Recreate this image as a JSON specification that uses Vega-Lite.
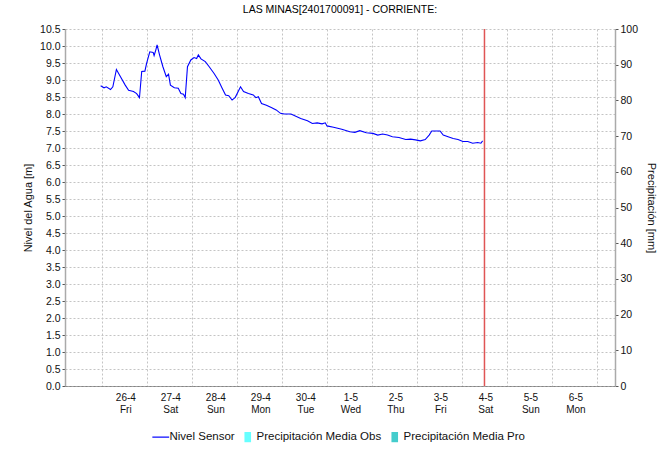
{
  "$schema": "https://vega.github.io/schema/vega-lite/v6.json",
  "width": 550,
  "height": 357,
  "autosize": {"type": "none"},
  "padding": {"left": 65, "top": 29, "right": 48, "bottom": 65},
  "background": "white",
  "title": {"text": "LAS MINAS[2401700091] - CORRIENTE:", "font": "Liberation Sans", "fontSize": 10.5, "fontWeight": "normal", "color": "#000000", "frame": "group", "anchor": "middle", "offset": 9},
  "config": {
    "view": {"stroke": null},
    "font": "Liberation Sans",
    "axis": {"labelFont": "Liberation Sans", "labelFontSize": 10.5, "labelColor": "#111111", "titleFont": "Liberation Sans", "titleFontSize": 11, "titleFontWeight": "normal", "titleColor": "#111111", "gridColor": "#c4c4c4", "gridDash": [2, 2], "gridWidth": 1, "tickColor": "#555555", "tickSize": 3}
  },
  "datasets": {
    "nivel": [
      {"t": "2024-04-25T23:06", "v": 8.83, "series": "Nivel Sensor"},
      {"t": "2024-04-26T00:54", "v": 8.77, "series": "Nivel Sensor"},
      {"t": "2024-04-26T02:06", "v": 8.80, "series": "Nivel Sensor"},
      {"t": "2024-04-26T04:21", "v": 8.72, "series": "Nivel Sensor"},
      {"t": "2024-04-26T05:36", "v": 8.80, "series": "Nivel Sensor"},
      {"t": "2024-04-26T07:30", "v": 9.31, "series": "Nivel Sensor"},
      {"t": "2024-04-26T09:36", "v": 9.10, "series": "Nivel Sensor"},
      {"t": "2024-04-26T12:12", "v": 8.85, "series": "Nivel Sensor"},
      {"t": "2024-04-26T14:00", "v": 8.70, "series": "Nivel Sensor"},
      {"t": "2024-04-26T16:36", "v": 8.66, "series": "Nivel Sensor"},
      {"t": "2024-04-26T18:18", "v": 8.60, "series": "Nivel Sensor"},
      {"t": "2024-04-26T19:48", "v": 8.48, "series": "Nivel Sensor"},
      {"t": "2024-04-26T21:00", "v": 9.25, "series": "Nivel Sensor"},
      {"t": "2024-04-26T22:42", "v": 9.26, "series": "Nivel Sensor"},
      {"t": "2024-04-26T23:36", "v": 9.49, "series": "Nivel Sensor"},
      {"t": "2024-04-27T01:18", "v": 9.83, "series": "Nivel Sensor"},
      {"t": "2024-04-27T03:06", "v": 9.81, "series": "Nivel Sensor"},
      {"t": "2024-04-27T03:36", "v": 9.72, "series": "Nivel Sensor"},
      {"t": "2024-04-27T04:30", "v": 9.88, "series": "Nivel Sensor"},
      {"t": "2024-04-27T05:12", "v": 10.03, "series": "Nivel Sensor"},
      {"t": "2024-04-27T06:30", "v": 9.74, "series": "Nivel Sensor"},
      {"t": "2024-04-27T08:18", "v": 9.39, "series": "Nivel Sensor"},
      {"t": "2024-04-27T10:06", "v": 9.10, "series": "Nivel Sensor"},
      {"t": "2024-04-27T11:18", "v": 9.17, "series": "Nivel Sensor"},
      {"t": "2024-04-27T12:18", "v": 8.85, "series": "Nivel Sensor"},
      {"t": "2024-04-27T14:24", "v": 8.77, "series": "Nivel Sensor"},
      {"t": "2024-04-27T16:30", "v": 8.76, "series": "Nivel Sensor"},
      {"t": "2024-04-27T17:54", "v": 8.60, "series": "Nivel Sensor"},
      {"t": "2024-04-27T19:18", "v": 8.58, "series": "Nivel Sensor"},
      {"t": "2024-04-27T20:12", "v": 8.48, "series": "Nivel Sensor"},
      {"t": "2024-04-27T21:24", "v": 9.39, "series": "Nivel Sensor"},
      {"t": "2024-04-27T23:12", "v": 9.59, "series": "Nivel Sensor"},
      {"t": "2024-04-28T00:54", "v": 9.66, "series": "Nivel Sensor"},
      {"t": "2024-04-28T02:18", "v": 9.63, "series": "Nivel Sensor"},
      {"t": "2024-04-28T03:12", "v": 9.74, "series": "Nivel Sensor"},
      {"t": "2024-04-28T04:36", "v": 9.62, "series": "Nivel Sensor"},
      {"t": "2024-04-28T06:54", "v": 9.54, "series": "Nivel Sensor"},
      {"t": "2024-04-28T09:00", "v": 9.39, "series": "Nivel Sensor"},
      {"t": "2024-04-28T11:36", "v": 9.19, "series": "Nivel Sensor"},
      {"t": "2024-04-28T13:48", "v": 9.00, "series": "Nivel Sensor"},
      {"t": "2024-04-28T15:54", "v": 8.76, "series": "Nivel Sensor"},
      {"t": "2024-04-28T17:42", "v": 8.56, "series": "Nivel Sensor"},
      {"t": "2024-04-28T19:24", "v": 8.54, "series": "Nivel Sensor"},
      {"t": "2024-04-28T21:12", "v": 8.41, "series": "Nivel Sensor"},
      {"t": "2024-04-28T22:54", "v": 8.49, "series": "Nivel Sensor"},
      {"t": "2024-04-29T01:42", "v": 8.80, "series": "Nivel Sensor"},
      {"t": "2024-04-29T03:18", "v": 8.66, "series": "Nivel Sensor"},
      {"t": "2024-04-29T05:54", "v": 8.60, "series": "Nivel Sensor"},
      {"t": "2024-04-29T08:30", "v": 8.56, "series": "Nivel Sensor"},
      {"t": "2024-04-29T09:54", "v": 8.48, "series": "Nivel Sensor"},
      {"t": "2024-04-29T11:12", "v": 8.51, "series": "Nivel Sensor"},
      {"t": "2024-04-29T12:54", "v": 8.31, "series": "Nivel Sensor"},
      {"t": "2024-04-29T15:30", "v": 8.26, "series": "Nivel Sensor"},
      {"t": "2024-04-29T18:06", "v": 8.19, "series": "Nivel Sensor"},
      {"t": "2024-04-29T20:42", "v": 8.12, "series": "Nivel Sensor"},
      {"t": "2024-04-29T23:00", "v": 8.02, "series": "Nivel Sensor"},
      {"t": "2024-04-30T01:06", "v": 8.00, "series": "Nivel Sensor"},
      {"t": "2024-04-30T04:36", "v": 8.00, "series": "Nivel Sensor"},
      {"t": "2024-04-30T09:48", "v": 7.87, "series": "Nivel Sensor"},
      {"t": "2024-04-30T13:24", "v": 7.80, "series": "Nivel Sensor"},
      {"t": "2024-04-30T16:00", "v": 7.72, "series": "Nivel Sensor"},
      {"t": "2024-04-30T18:36", "v": 7.74, "series": "Nivel Sensor"},
      {"t": "2024-04-30T21:12", "v": 7.71, "series": "Nivel Sensor"},
      {"t": "2024-04-30T22:54", "v": 7.74, "series": "Nivel Sensor"},
      {"t": "2024-04-30T23:48", "v": 7.65, "series": "Nivel Sensor"},
      {"t": "2024-05-01T03:18", "v": 7.61, "series": "Nivel Sensor"},
      {"t": "2024-05-01T07:42", "v": 7.55, "series": "Nivel Sensor"},
      {"t": "2024-05-01T12:00", "v": 7.48, "series": "Nivel Sensor"},
      {"t": "2024-05-01T14:42", "v": 7.46, "series": "Nivel Sensor"},
      {"t": "2024-05-01T17:18", "v": 7.51, "series": "Nivel Sensor"},
      {"t": "2024-05-01T20:48", "v": 7.45, "series": "Nivel Sensor"},
      {"t": "2024-05-02T00:18", "v": 7.43, "series": "Nivel Sensor"},
      {"t": "2024-05-02T02:54", "v": 7.38, "series": "Nivel Sensor"},
      {"t": "2024-05-02T05:30", "v": 7.41, "series": "Nivel Sensor"},
      {"t": "2024-05-02T08:06", "v": 7.38, "series": "Nivel Sensor"},
      {"t": "2024-05-02T10:42", "v": 7.33, "series": "Nivel Sensor"},
      {"t": "2024-05-02T14:12", "v": 7.31, "series": "Nivel Sensor"},
      {"t": "2024-05-02T17:48", "v": 7.25, "series": "Nivel Sensor"},
      {"t": "2024-05-02T20:24", "v": 7.26, "series": "Nivel Sensor"},
      {"t": "2024-05-02T23:00", "v": 7.24, "series": "Nivel Sensor"},
      {"t": "2024-05-03T01:36", "v": 7.21, "series": "Nivel Sensor"},
      {"t": "2024-05-03T04:12", "v": 7.25, "series": "Nivel Sensor"},
      {"t": "2024-05-03T06:18", "v": 7.38, "series": "Nivel Sensor"},
      {"t": "2024-05-03T07:42", "v": 7.50, "series": "Nivel Sensor"},
      {"t": "2024-05-03T12:06", "v": 7.50, "series": "Nivel Sensor"},
      {"t": "2024-05-03T13:48", "v": 7.38, "series": "Nivel Sensor"},
      {"t": "2024-05-03T16:24", "v": 7.33, "series": "Nivel Sensor"},
      {"t": "2024-05-03T19:06", "v": 7.28, "series": "Nivel Sensor"},
      {"t": "2024-05-03T21:42", "v": 7.25, "series": "Nivel Sensor"},
      {"t": "2024-05-04T00:18", "v": 7.19, "series": "Nivel Sensor"},
      {"t": "2024-05-04T02:54", "v": 7.19, "series": "Nivel Sensor"},
      {"t": "2024-05-04T05:30", "v": 7.14, "series": "Nivel Sensor"},
      {"t": "2024-05-04T08:12", "v": 7.16, "series": "Nivel Sensor"},
      {"t": "2024-05-04T09:54", "v": 7.14, "series": "Nivel Sensor"},
      {"t": "2024-05-04T10:48", "v": 7.21, "series": "Nivel Sensor"}
    ],
    "precip": [],
    "now": [{"t": "2024-05-04T11:48"}]
  },
  "layer": [
    {
      "data": {"name": "nivel"},
      "mark": {"type": "line", "strokeWidth": 1.1, "clip": true},
      "encoding": {
        "x": {
          "field": "t", "type": "temporal",
          "scale": {"domain": [{"year": 2024, "month": 4, "date": 25, "hours": 6, "minutes": 45}, {"year": 2024, "month": 5, "date": 7, "hours": 6, "minutes": 45}]},
          "axis": {
            "title": null,
            "tickCount": {"interval": "day", "step": 1},
            "grid": true,
            "ticks": false,
            "domainColor": "#444444",
            "domainDash": [1, 1],
            "domainWidth": 1,
            "labelOffset": 23,
            "labelPadding": 6,
            "labelFontSize": 10,
            "labelOverlap": false,
            "labelBound": false,
            "labelFlush": false,
            "labelLineHeight": 12,
            "labelExpr": "datum.value >= datetime(2024, 4, 6, 12) ? '' : [timeFormat(datum.value, '%-d-%-m'), timeFormat(datum.value, '%a')]"
          }
        },
        "y": {
          "field": "v", "type": "quantitative",
          "scale": {"domain": [0, 10.5], "nice": false, "zero": false},
          "axis": {
            "title": "Nivel del Agua [m]",
            "values": [0, 0.5, 1, 1.5, 2, 2.5, 3, 3.5, 4, 4.5, 5, 5.5, 6, 6.5, 7, 7.5, 8, 8.5, 9, 9.5, 10, 10.5],
            "format": ".1f",
            "grid": true,
            "domainColor": "#aaaaaa",
            "domainWidth": 1.5,
            "labelPadding": 2,
            "titlePadding": 6
          }
        },
        "color": {
          "field": "series", "type": "nominal",
          "scale": {"domain": ["Nivel Sensor", "Precipitación Media Obs", "Precipitación Media Pro"], "range": ["#0000ff", "#66ffff", "#44cccc"]},
          "legend": {
            "title": null,
            "orient": "none",
            "legendX": 90,
            "legendY": 402,
            "direction": "horizontal",
            "padding": 0,
            "symbolSize": 144,
            "labelFont": "Liberation Sans",
            "labelFontSize": 11.5,
            "labelColor": "#111111",
            "labelOffset": 3,
            "columnPadding": 7,
            "encoding": {
              "symbols": {
                "shape": {"value": {"expr": "datum.value === 'Nivel Sensor' ? 'M-1.4,0H1.4' : 'M-0.55,-0.85H0.55V0.85H-0.55Z'"}},
                "fill": {"value": {"expr": "datum.value === 'Nivel Sensor' ? 'transparent' : (datum.value === 'Precipitación Media Obs' ? '#66ffff' : '#44cccc')"}},
                "stroke": {"value": {"expr": "datum.value === 'Nivel Sensor' ? '#0000ff' : 'transparent'"}},
                "strokeWidth": {"value": {"expr": "datum.value === 'Nivel Sensor' ? 1.2 : 0"}},
                "opacity": {"value": 1}
              }
            }
          }
        }
      }
    },
    {
      "data": {"name": "now"},
      "mark": {"type": "rule", "color": "#e05555", "strokeWidth": 1.5},
      "encoding": {
        "x": {"field": "t", "type": "temporal"}
      }
    },
    {
      "data": {"name": "precip"},
      "mark": {"type": "bar"},
      "encoding": {
        "x": {"field": "t", "type": "temporal"},
        "y": {
          "field": "mm", "type": "quantitative",
          "scale": {"domain": [0, 100], "nice": false},
          "axis": {
            "orient": "right",
            "title": "Precipitación [mm]",
            "values": [0, 10, 20, 30, 40, 50, 60, 70, 80, 90, 100],
            "grid": false,
            "domainColor": "#aaaaaa",
            "domainWidth": 1.5,
            "labelPadding": 2,
            "titlePadding": 8
          }
        }
      }
    }
  ],
  "resolve": {"scale": {"y": "independent"}}
}
